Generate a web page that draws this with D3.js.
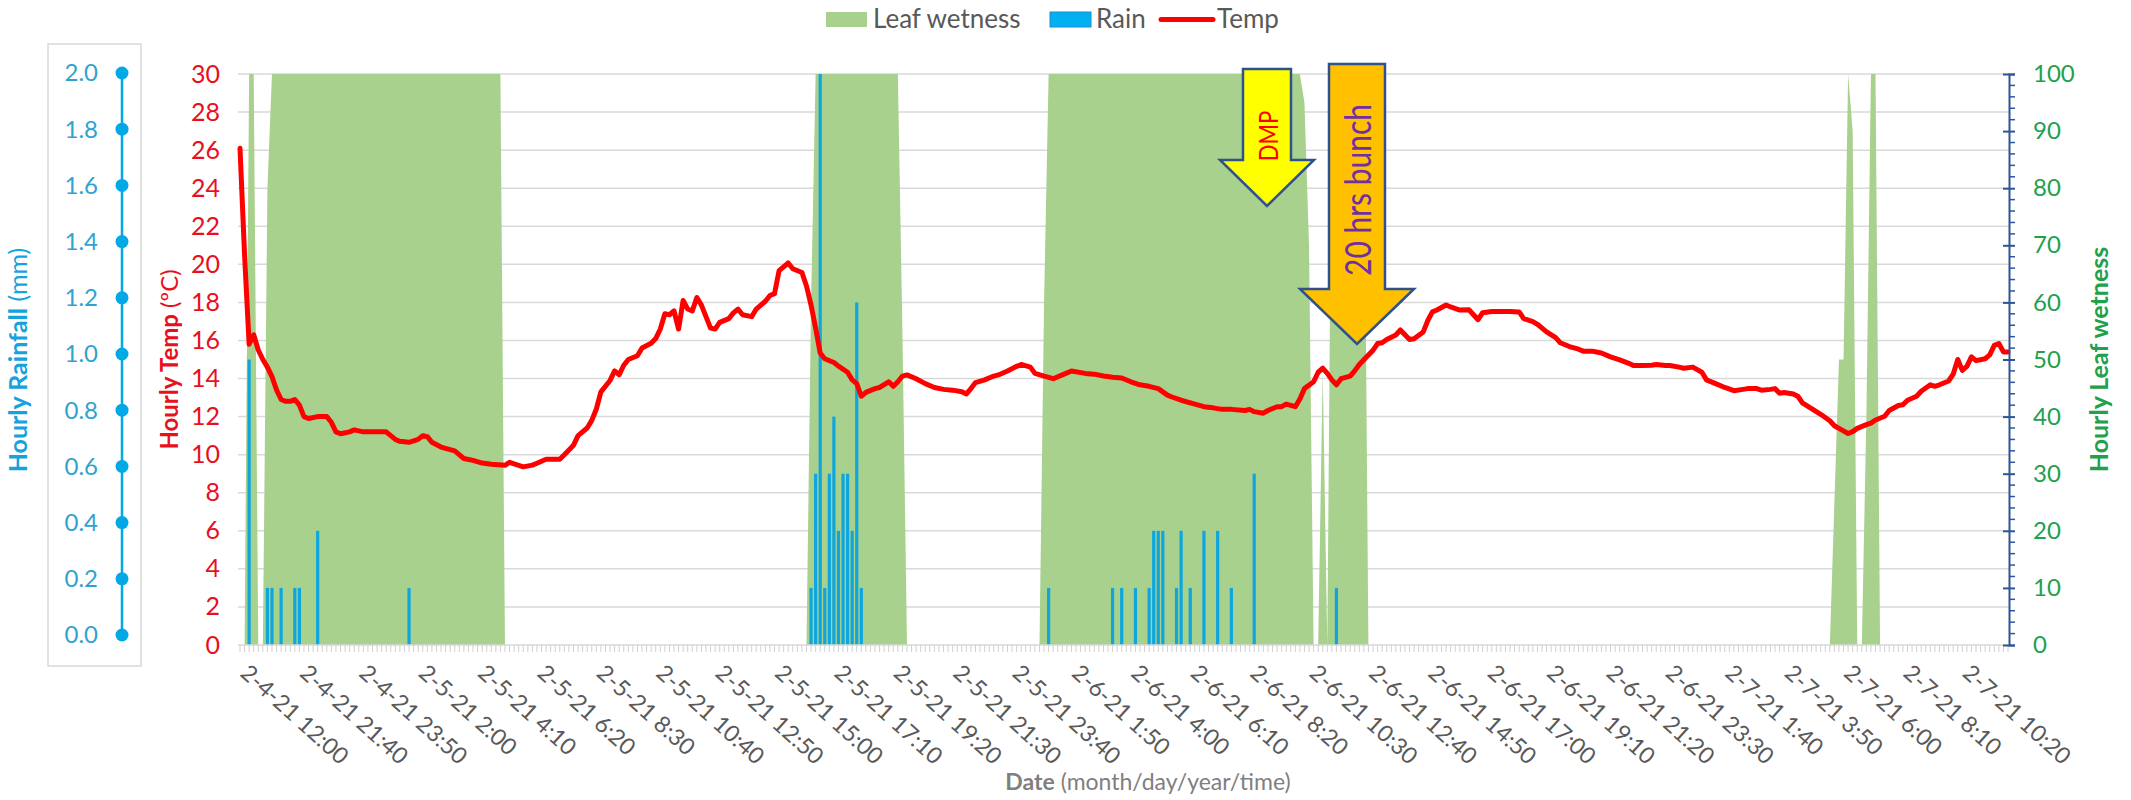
<!DOCTYPE html>
<html><head><meta charset="utf-8">
<script src="https://cdn.jsdelivr.net/npm/d3@7"></script>
<style>body{margin:0;background:#fff} svg{display:block;font-family:Lato,"Open Sans",sans-serif}</style>
</head><body><svg id="c" width="2131" height="800"></svg>
<script>
// ---------- DATA ----------
const nCats = 388; // 10-minute samples along the category axis
const tickLabels = ["2-4-21 12:00","2-4-21 21:40","2-4-21 23:50","2-5-21 2:00","2-5-21 4:10","2-5-21 6:20","2-5-21 8:30","2-5-21 10:40","2-5-21 12:50","2-5-21 15:00","2-5-21 17:10","2-5-21 19:20","2-5-21 21:30","2-5-21 23:40","2-6-21 1:50","2-6-21 4:00","2-6-21 6:10","2-6-21 8:20","2-6-21 10:30","2-6-21 12:40","2-6-21 14:50","2-6-21 17:00","2-6-21 19:10","2-6-21 21:20","2-6-21 23:30","2-7-21 1:40","2-7-21 3:50","2-7-21 6:00","2-7-21 8:10","2-7-21 10:20"];
const tickEvery = 13;
const tempTicks = [0,2,4,6,8,10,12,14,16,18,20,22,24,26,28,30];
const rainTicks = [0,0.2,0.4,0.6,0.8,1.0,1.2,1.4,1.6,1.8,2.0];
const leafTicks = [0,10,20,30,40,50,60,70,80,90,100];
const leafMinor = [2,4,6,8,12,14,16,18,22,24,26,28,32,34,36,38,42,44,46,48,52,54,56,58,62,64,66,68,72,74,76,78,82,84,86,88,92,94,96,98];

// [category index, °C]
const tempPts = [[0,26.1],[1,20.5],[2,15.8],[3,16.3],[4,15.5],[5,15.0],[6,14.6],[7,14.1],[8,13.4],[9,12.9],[10,12.8],[11,12.8],[12,12.9],[13,12.6],[14,12.0],[15,11.9],[17,12.0],[19,12.0],[20,11.7],[21,11.2],[22,11.1],[24,11.2],[25,11.3],[27,11.2],[29,11.2],[32,11.2],[34,10.8],[35,10.7],[37,10.65],[39,10.8],[40,11.0],[41,10.95],[42,10.65],[44,10.4],[47,10.2],[49,9.8],[51,9.7],[53,9.56],[55,9.5],[58,9.44],[59,9.6],[62,9.36],[64,9.45],[65,9.55],[67,9.76],[70,9.76],[71,10.0],[73,10.5],[74,11.0],[76,11.4],[77,11.8],[78,12.4],[79,13.3],[81,13.9],[82,14.4],[83,14.2],[84,14.7],[85,15.0],[87,15.2],[88,15.6],[90,15.85],[91,16.1],[92,16.6],[93,17.4],[94,17.35],[95,17.55],[96,16.6],[97,18.1],[98,17.65],[99,17.55],[100,18.26],[101,17.86],[102,17.25],[103,16.65],[104,16.6],[105,16.95],[107,17.15],[108,17.45],[109,17.65],[110,17.35],[112,17.25],[113,17.65],[114,17.86],[115,18.06],[116,18.36],[117,18.46],[118,19.67],[120,20.07],[121,19.77],[123,19.57],[124,18.86],[125,17.86],[126,16.65],[127,15.34],[128,15.04],[130,14.84],[131,14.65],[133,14.33],[134,13.93],[135,13.73],[136,13.07],[137,13.27],[139,13.47],[140,13.53],[142,13.83],[143,13.59],[144,13.83],[145,14.13],[146,14.19],[148,13.99],[150,13.73],[152,13.53],[154,13.43],[156,13.39],[158,13.31],[159,13.19],[160,13.47],[161,13.79],[163,13.93],[165,14.13],[166,14.19],[168,14.4],[170,14.64],[171,14.74],[173,14.6],[174,14.27],[176,14.13],[178,13.99],[180,14.19],[182,14.4],[185,14.27],[187,14.23],[189,14.13],[191,14.07],[193,14.03],[195,13.83],[197,13.67],[199,13.59],[201,13.47],[203,13.13],[204,13.03],[206,12.86],[209,12.66],[211,12.52],[213,12.46],[215,12.38],[217,12.38],[220,12.32],[221,12.38],[222,12.26],[224,12.18],[225,12.32],[227,12.52],[228,12.52],[229,12.66],[231,12.52],[232,12.93],[233,13.47],[235,13.83],[236,14.33],[237,14.54],[238,14.27],[239,13.93],[240,13.67],[241,13.99],[243,14.13],[244,14.4],[245,14.74],[247,15.24],[248,15.48],[249,15.84],[250,15.88],[251,16.05],[253,16.29],[254,16.55],[256,16.05],[257,16.09],[259,16.45],[260,17.05],[261,17.5],[262,17.6],[264,17.86],[265,17.76],[267,17.6],[269,17.62],[270,17.35],[271,17.09],[272,17.46],[274,17.52],[276,17.52],[278,17.52],[280,17.5],[281,17.15],[283,16.99],[284,16.85],[286,16.45],[288,16.15],[289,15.88],[291,15.68],[293,15.54],[294,15.44],[296,15.44],[298,15.34],[300,15.14],[302,14.98],[304,14.8],[305,14.68],[307,14.68],[309,14.7],[310,14.74],[312,14.68],[313,14.68],[315,14.6],[316,14.54],[318,14.6],[320,14.33],[321,13.93],[323,13.73],[325,13.53],[327,13.36],[329,13.43],[330,13.47],[332,13.47],[333,13.39],[335,13.43],[336,13.47],[337,13.23],[338,13.27],[340,13.19],[341,13.07],[342,12.72],[344,12.42],[346,12.12],[348,11.78],[349,11.52],[350,11.38],[352,11.11],[353,11.21],[354,11.38],[356,11.58],[357,11.66],[358,11.82],[360,12.02],[361,12.32],[363,12.58],[364,12.62],[365,12.86],[367,13.07],[368,13.33],[369,13.5],[370,13.67],[371,13.59],[372,13.67],[374,13.87],[375,14.23],[376,15.0],[377,14.43],[378,14.64],[379,15.14],[380,14.94],[382,15.04],[383,15.24],[384,15.74],[385,15.84],[386,15.4],[387,15.4]];

// [category index, mm]
const rainPts = [[2,1.0],[6,0.2],[7,0.2],[9,0.2],[12,0.2],[13,0.2],[17,0.4],[37,0.2],[125,0.2],[126,0.6],[127,2.0],[128,0.2],[129,0.6],[130,0.8],[131,0.4],[132,0.6],[133,0.6],[134,0.4],[135,1.2],[136,0.2],[177,0.2],[191,0.2],[193,0.2],[196,0.2],[199,0.2],[200,0.4],[201,0.4],[202,0.4],[205,0.2],[206,0.4],[208,0.2],[211,0.4],[214,0.4],[217,0.2],[222,0.6],[240,0.2]];

// [category index, leaf wetness]
const leafPts = [[0,0],[1,0],[2,100],[3,100],[4,0],[5,0],[6,80],[7,100],[57,100],[58,0],[124,0],[125,60],[126,100],[144,100],[145,55],[146,0],[175,0],[176,60],[177,100],[232,100],[233,95],[234,70],[235,0],[236,0],[237,48],[238,0],[239,100],[246,100],[247,0],[348,0],[349,25],[350,50],[351,50],[352,100],[353,90],[354,0],[355,0],[356,40],[357,100],[358,100],[359,0],[387,0]];

// annotations: [label, tip category index]
const notes = [{text:"DMP", at:224.8}, {text:"20 hrs bunch", at:244.5}];

// ---------- CHART ----------
const svg = d3.select("#c");
const X0 = 240, X1 = 2008, YT = 74, YB = 645;
const x = d3.scaleLinear().domain([0, nCats-1]).range([X0, X1]);
const yT = d3.scaleLinear().domain([0,30]).range([YB, YT]);
const yR = d3.scaleLinear().domain([0,2]).range([YB, YT]);
const yL = d3.scaleLinear().domain([0,100]).range([YB, YT]);
const yRainAxis = d3.scaleLinear().domain([0,2]).range([635, 73]);

const grey = "#595959", red = "#E8101C", blue = "#00A8E6", green = "#22A04B", navy = "#2F5597";

// gridlines
svg.append("g").selectAll("line").data(tempTicks.filter(d=>d>0)).join("line")
  .attr("x1", X0-2).attr("x2", X1+2).attr("y1", d=>yT(d)).attr("y2", d=>yT(d))
  .attr("stroke", "#D9D9D9").attr("stroke-width", 1.5);

// leaf wetness area
svg.append("path").datum(leafPts)
  .attr("d", d3.area().x(d=>x(d[0])).y0(yL(0)).y1(d=>yL(d[1])))
  .attr("fill", "#A9D18E");

// rain bars
svg.append("g").selectAll("rect").data(rainPts).join("rect")
  .attr("x", d=>x(d[0])-1.6).attr("width", 3.2)
  .attr("y", d=>yR(d[1])).attr("height", d=>yR(0)-yR(d[1]))
  .attr("fill", "#0FA6DE");

// bottom axis with per-category ticks
svg.append("line").attr("x1", X0-2).attr("x2", X1+2).attr("y1", YB).attr("y2", YB)
  .attr("stroke", "#D9D9D9").attr("stroke-width", 1.5);
svg.append("g").selectAll("line").data(d3.range(nCats)).join("line")
  .attr("x1", d=>x(d)).attr("x2", d=>x(d)).attr("y1", YB).attr("y2", YB+7)
  .attr("stroke", "#D0D0D0").attr("stroke-width", 1);

// temperature line
svg.append("path").datum(tempPts)
  .attr("d", d3.line().x(d=>x(d[0])).y(d=>yT(d[1])))
  .attr("fill", "none").attr("stroke", "#FF0000").attr("stroke-width", 5)
  .attr("stroke-linejoin", "round").attr("stroke-linecap", "round");

// x tick labels
svg.append("g").selectAll("text").data(tickLabels).join("text")
  .attr("transform", (d,i)=>`translate(${x(i*tickEvery)-1},${YB+30}) rotate(42)`)
  .attr("font-size", 23).attr("fill", grey).text(d=>d);

svg.append("text").attr("x", 1148).attr("y", 790).attr("text-anchor", "middle")
  .attr("font-size", 23).attr("fill", "#7F7F7F")
  .call(t=>{t.append("tspan").attr("font-weight","bold").text("Date");
            t.append("tspan").text(" (month/day/year/time)");});

// left temperature axis
const gT = svg.append("g").attr("transform", `translate(${X0-20},0)`)
  .call(d3.axisLeft(yT).tickValues(tempTicks).tickSize(0).tickPadding(0));
gT.select(".domain").remove();
gT.selectAll("text").attr("font-size", 25).attr("fill", red).attr("font-family", "Lato");
svg.append("text").attr("transform", `translate(178,${(YT+YB)/2}) rotate(-90)`)
  .attr("text-anchor", "middle").attr("font-size", 24).attr("fill", red)
  .call(t=>{t.append("tspan").attr("font-weight","bold").text("Hourly Temp");
            t.append("tspan").text(" (ºC)");});

// right leaf wetness axis
const RX = 2009;
const gL = svg.append("g").attr("transform", `translate(${RX},0)`)
  .call(d3.axisRight(yL).tickValues(leafTicks).tickSize(6).tickPadding(18));
gL.select(".domain").attr("stroke", navy).attr("stroke-width", 2);
gL.selectAll(".tick line").attr("x1", -6).attr("stroke", navy).attr("stroke-width", 2);
gL.selectAll("text").attr("font-size", 24).attr("fill", green).attr("font-family", "Lato");
svg.append("g").selectAll("line").data(leafMinor).join("line")
  .attr("x1", RX).attr("x2", RX+6).attr("y1", d=>yL(d)).attr("y2", d=>yL(d))
  .attr("stroke", navy).attr("stroke-width", 1.5);
svg.append("text").attr("transform", `translate(2108,${(YT+YB)/2}) rotate(-90)`)
  .attr("text-anchor", "middle").attr("font-size", 25).attr("font-weight", "bold")
  .attr("fill", green).text("Hourly Leaf wetness");

// rainfall axis panel
svg.append("rect").attr("x", 48).attr("y", 44).attr("width", 93).attr("height", 622)
  .attr("fill", "none").attr("stroke", "#D9D9D9").attr("stroke-width", 1.5);
svg.append("line").attr("x1", 122).attr("x2", 122)
  .attr("y1", yRainAxis(2)).attr("y2", yRainAxis(0)).attr("stroke", blue).attr("stroke-width", 2.5);
svg.append("g").selectAll("circle").data(rainTicks).join("circle")
  .attr("cx", 122).attr("cy", d=>yRainAxis(d)).attr("r", 6.5).attr("fill", blue);
svg.append("g").selectAll("text").data(rainTicks).join("text")
  .attr("x", 98).attr("y", d=>yRainAxis(d)).attr("dy", "0.35em").attr("text-anchor", "end")
  .attr("font-size", 24).attr("fill", "#2FA3D0").text(d=>d.toFixed(1));
svg.append("text").attr("transform", `translate(27,360) rotate(-90)`)
  .attr("text-anchor", "middle").attr("font-size", 25).attr("fill", "#14A3DC")
  .call(t=>{t.append("tspan").attr("font-weight","bold").text("Hourly Rainfall");
            t.append("tspan").text(" (mm)");});

// legend
const lg = svg.append("g").attr("font-size", 26).attr("fill", grey);
lg.append("rect").attr("x", 826).attr("y", 12).attr("width", 41).attr("height", 15).attr("fill", "#A9D18E");
lg.append("text").attr("x", 873).attr("y", 28).text("Leaf wetness");
lg.append("rect").attr("x", 1050).attr("y", 12).attr("width", 41).attr("height", 15).attr("fill", "#00B0F0")
  .attr("stroke", "#1F8FC8").attr("stroke-width", 1);
lg.append("text").attr("x", 1096).attr("y", 28).text("Rain");
lg.append("line").attr("x1", 1161).attr("x2", 1213).attr("y1", 19.5).attr("y2", 19.5)
  .attr("stroke", "#FF0000").attr("stroke-width", 5).attr("stroke-linecap", "round");
lg.append("text").attr("x", 1217).attr("y", 28).text("Temp");

// annotation arrows
function arrow(cx, top, base, tip, bw, hw, fill, txt, tcol, fs, ty) {
  const p = d3.path();
  p.moveTo(cx-bw, top); p.lineTo(cx+bw, top); p.lineTo(cx+bw, base); p.lineTo(cx+hw, base);
  p.lineTo(cx, tip); p.lineTo(cx-hw, base); p.lineTo(cx-bw, base); p.closePath();
  svg.append("path").attr("d", p.toString()).attr("fill", fill)
    .attr("stroke", "#2F528F").attr("stroke-width", 2.5).attr("stroke-linejoin", "miter");
  svg.append("text").attr("transform", `translate(${cx+1},${ty}) rotate(-90) scale(1,1.25)`)
    .attr("text-anchor", "middle").attr("dy", "0.35em").attr("font-size", fs).attr("fill", tcol).text(txt);
}
arrow(x(notes[0].at), 69, 160, 206, 24, 47, "#FFFF00", notes[0].text, "#FF0000", 22, 136);
arrow(x(notes[1].at), 64, 289, 344, 28, 57, "#FFC000", notes[1].text, "#7030A0", 30, 190);
</script></body></html>
